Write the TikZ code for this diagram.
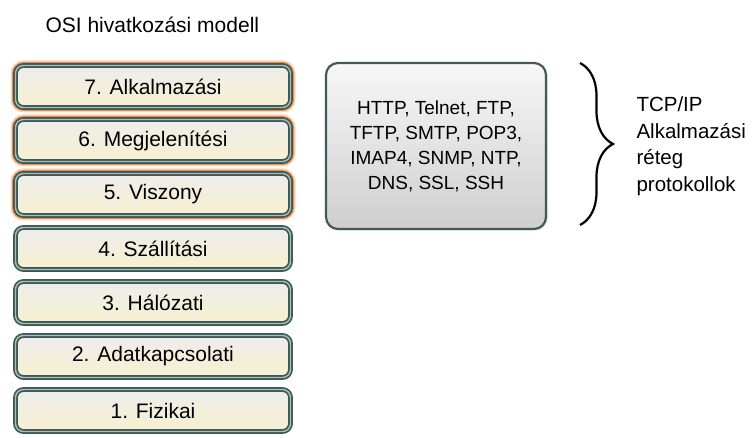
\documentclass[tikz,border=0pt]{standalone}
\usepackage{fontspec}
\setmainfont{Liberation Sans}
\usepackage{xcolor}
\usetikzlibrary{positioning,decorations.pathreplacing,shadows}
\definecolor{ositeal}{HTML}{3A5856}
\definecolor{osipale}{HTML}{A9BDB6}
\definecolor{ositop}{HTML}{EDEDEC}
\definecolor{osibot}{HTML}{F8F0D0}
\definecolor{osiglow}{HTML}{EE8A45}
\definecolor{protoedge}{HTML}{45595A}

\begin{document}
\begin{tikzpicture}[x=1pt,y=1pt,node distance=12pt,
    layerbox/.style={draw=ositeal,line width=1.7pt,double=osipale,double distance=1.4pt,rounded corners=8pt,
      top color=ositop,bottom color=osibot,minimum width=275pt,minimum height=42pt,outer sep=0pt,
      font=\fontsize{21}{25}\selectfont},
    glowing/.style={preaction={draw=osiglow!35,line width=10pt,rounded corners=11pt},
      preaction={draw=osiglow,line width=7pt,rounded corners=9pt}},
    protobox/.style={draw=protoedge,line width=2.2pt,rounded corners=12pt,top color=black!3,bottom color=black!19,
      drop shadow={opacity=0.25,shadow xshift=1.5pt,shadow yshift=-1.5pt},
      minimum width=220pt,minimum height=166pt,align=center,font=\fontsize{19}{25}\selectfont}]
        \useasboundingbox (0,0) rectangle (752,-438);
        \node[anchor=base west,font=\fontsize{21}{25}\selectfont] (title) at (42,-33) {OSI hivatkozási modell};
        \node[layerbox,glowing] (l7) at (153,-86.5) {7. Alkalmazási};
        \node[layerbox,glowing,below=of l7] (l6) {6. Megjelenítési};
        \node[layerbox,glowing,below=of l6] (l5) {5. Viszony};
        \node[layerbox,below=of l5] (l4) {4. Szállítási};
        \node[layerbox,below=of l4] (l3) {3. Hálózati};
        \node[layerbox,below=of l3] (l2) {2. Adatkapcsolati};
        \node[layerbox,below=of l2] (l1) {1. Fizikai};
        \node[protobox] (proto) at (436,-146) {HTTP, Telnet, FTP,\\TFTP, SMTP, POP3,\\IMAP4, SNMP, NTP,\\DNS, SSL, SSH};
        \coordinate (bracetop) at (580,-63);
        \coordinate (bracebot) at (580,-225);
        \draw[line width=2.2pt,decorate,decoration={brace,amplitude=33pt}] (bracetop)--(bracebot);
        \node[anchor=west,align=left,font=\fontsize{20.5}{26.5}\selectfont] (tcpip) at (633,-146) {TCP/IP\\Alkalmazási\\réteg\\protokollok};
      \end{tikzpicture}
\end{document}
